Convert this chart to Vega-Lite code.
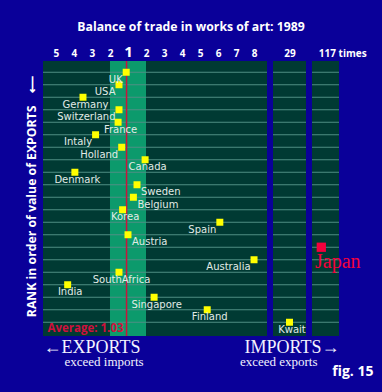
{
  "$schema": "https://vega.github.io/schema/vega-lite/v6.json",
  "width": 296,
  "height": 275,
  "autosize": {"type": "none"},
  "padding": {"left": 43, "top": 61, "right": 43, "bottom": 56},
  "background": "#0a0099",
  "title": {"text": "Balance of trade in works of art: 1989", "font": "Open Sans", "fontSize": 12.25, "fontWeight": "bold", "color": "#ffffff", "anchor": "middle", "offset": 11},
  "config": {"view": {"fill": "#003a33", "stroke": null}},
  "datasets": {
    "countries": [
      {"country": "UK", "rank": 1, "balance": -1.1},
      {"country": "USA", "rank": 2, "balance": -1.5},
      {"country": "Germany", "rank": 3, "balance": -3.5},
      {"country": "Switzerland", "rank": 4, "balance": -1.5},
      {"country": "France", "rank": 5, "balance": -1.55},
      {"country": "Intaly", "rank": 6, "balance": -2.8},
      {"country": "Holland", "rank": 7, "balance": -1.35},
      {"country": "Canada", "rank": 8, "balance": 1.95},
      {"country": "Denmark", "rank": 9, "balance": -3.95},
      {"country": "Sweden", "rank": 10, "balance": 1.5},
      {"country": "Belgium", "rank": 11, "balance": 1.3},
      {"country": "Korea", "rank": 12, "balance": -1.3},
      {"country": "Spain", "rank": 13, "balance": 6.1},
      {"country": "Austria", "rank": 14, "balance": -1.0},
      {"country": "Japan", "rank": 15, "balance": 117},
      {"country": "Australia", "rank": 16, "balance": 8.0},
      {"country": "SouthAfrica", "rank": 17, "balance": -1.5},
      {"country": "India", "rank": 18, "balance": -4.35},
      {"country": "Singapore", "rank": 19, "balance": 2.45},
      {"country": "Finland", "rank": 20, "balance": 5.4},
      {"country": "Kwait", "rank": 21, "balance": 29}
    ],
    "band": [{"from": -2, "to": 2}],
    "gaps": [{"from": 8.72, "to": 27}, {"from": 31, "to": 115}],
    "average": [{"average": -1.08, "label": "Average: 1.03"}]
  },
  "resolve": {"axis": {"x": "independent", "y": "independent"}},
  "layer": [
    {
      "data": {"name": "band"},
      "mark": {"type": "rect", "color": "#0c9a6c"},
      "encoding": {
        "x": {"field": "from", "type": "quantitative", "axis": {
          "orient": "top", "values": [-5, -4, -3, -2, 1, 2, 3, 4, 5, 6, 7, 8, 29, 117],
          "labelExpr": "datum.value == 117 ? '117 times' : '' + abs(datum.value)",
          "labelFont": "Open Sans", "labelFontWeight": "bold",
          "labelFontSize": {"condition": {"test": "datum.value == 1", "value": 15}, "value": 10},
          "labelColor": "#ffffff",
          "labelAlign": {"condition": {"test": "datum.value == 117", "value": "left"}, "value": "center"},
          "labelOffset": {"condition": {"test": "datum.value == 117", "value": -3}, "value": 0},
          "labelBaseline": "alphabetic", "labelPadding": 4.7,
          "ticks": false, "tickSize": 0, "domain": false, "grid": false, "title": null,
          "labelOverlap": false, "labelBound": false, "labelFlush": false
        }},
        "x2": {"field": "to"}
      }
    },
    {
      "data": {"name": "countries"},
      "mark": {"type": "rule", "color": "#4f8f84", "strokeWidth": 1},
      "encoding": {
        "y": {"field": "rank", "type": "quantitative",
          "scale": {"domain": [0.1, 22.1], "reverse": true, "nice": false, "zero": false},
          "axis": {
            "orient": "left", "title": "RANK in order of value of EXPORTS\u00a0\u00a0\u00a0\u00a0⟵",
            "titleFont": "Open Sans", "titleFontWeight": "bold", "titleFontSize": 12.25, "titleColor": "#ffffff",
            "titlePadding": 8, "titleY": 135, "titleBaseline": "alphabetic", "titleAlign": "center", "titleAngle": -90,
            "labels": false, "ticks": false, "domain": false, "grid": false
          }
        },
        "x": {"datum": -5.72, "type": "quantitative", "axis": null},
        "x2": {"datum": 120.8}
      }
    },
    {
      "data": {"name": "gaps"},
      "mark": {"type": "rect", "color": "#0a0099"},
      "encoding": {
        "x": {"field": "from", "type": "quantitative", "axis": null},
        "x2": {"field": "to"}
      }
    },
    {
      "data": {"name": "average"},
      "mark": {"type": "rule", "color": "#c8143c", "strokeWidth": 1.5},
      "encoding": {
        "x": {"field": "average", "type": "quantitative", "axis": {
          "orient": "bottom", "values": [-5.72, 120.8],
          "labelExpr": "datum.value < 0 ? '←EXPORTS' : 'IMPORTS→'",
          "labelFont": "Liberation Serif", "labelFontSize": 18, "labelColor": "#f2f2ff",
          "labelAlign": {"condition": {"test": "datum.value < 0", "value": "left"}, "value": "right"},
          "labelBaseline": "alphabetic", "labelPadding": 16.5,
          "ticks": false, "tickSize": 0, "domain": false, "grid": false, "title": null,
          "labelOverlap": false, "labelBound": false, "labelFlush": false
        }}
      }
    },
    {
      "data": {"name": "average"},
      "mark": {"type": "text", "align": "right", "baseline": "alphabetic", "dx": -3, "dy": -4, "font": "Open Sans", "fontWeight": "bold", "fontSize": 11.5, "color": "#d0103c"},
      "encoding": {
        "x": {"field": "average", "type": "quantitative", "axis": null},
        "y": {"datum": 22.1, "type": "quantitative", "axis": null},
        "text": {"field": "label"}
      }
    },
    {
      "data": {"name": "countries"},
      "mark": {"type": "square", "opacity": 1},
      "encoding": {
        "x": {"field": "balance", "type": "quantitative",
          "scale": {"type": "linear", "domain": [-5.72, -1, 1, 8.72, 27, 31, 115, 120.8], "range": [0, 85, 85, 224, 230, 263, 269, 296], "nice": false, "zero": false},
          "axis": {
            "orient": "bottom", "values": [-5.72, 120.8],
            "labelExpr": "datum.value < 0 ? 'exceed imports' : 'exceed exports'",
            "labelFont": "Liberation Serif", "labelFontSize": 13, "labelColor": "#f2f2ff",
            "labelAlign": {"condition": {"test": "datum.value < 0", "value": "left"}, "value": "right"},
            "labelOffset": {"condition": {"test": "datum.value < 0", "value": 21}, "value": -22},
            "labelBaseline": "alphabetic", "labelPadding": 29.5,
            "ticks": false, "tickSize": 0, "domain": false, "grid": false,
            "labelOverlap": false, "labelBound": false, "labelFlush": false,
            "title": "fig. 15", "titleFont": "Open Sans", "titleFontWeight": "bold", "titleFontSize": 14, "titleColor": "#ffffff",
            "titleX": 330, "titleY": 39, "titleAlign": "right", "titleBaseline": "alphabetic", "titleAnchor": "end"
          }
        },
        "y": {"field": "rank", "type": "quantitative", "axis": null},
        "color": {"condition": {"test": "datum.country == 'Japan'", "value": "#f4003c"}, "value": "#ffff00"},
        "size": {"condition": {"test": "datum.country == 'Japan'", "value": 86}, "value": 49}
      }
    },
    {
      "data": {"name": "countries"},
      "transform": [{"filter": {"field": "country", "oneOf": ["UK", "USA", "Switzerland", "Intaly", "Holland", "Spain", "Australia"]}}],
      "mark": {"type": "text", "align": "right", "baseline": "middle", "dx": -3.5, "dy": 7.5, "font": "DejaVu Sans", "fontSize": 10, "color": "#e2ebe6"},
      "encoding": {
        "x": {"field": "balance", "type": "quantitative", "axis": null},
        "y": {"field": "rank", "type": "quantitative", "axis": null},
        "text": {"field": "country"}
      }
    },
    {
      "data": {"name": "countries"},
      "transform": [{"filter": {"field": "country", "oneOf": ["Sweden", "Belgium", "Austria"]}}],
      "mark": {"type": "text", "align": "left", "baseline": "middle", "dx": 4, "dy": 7.5, "font": "DejaVu Sans", "fontSize": 10, "color": "#e2ebe6"},
      "encoding": {
        "x": {"field": "balance", "type": "quantitative", "axis": null},
        "y": {"field": "rank", "type": "quantitative", "axis": null},
        "text": {"field": "country"}
      }
    },
    {
      "data": {"name": "countries"},
      "transform": [{"filter": {"field": "country", "oneOf": ["Germany", "France", "Canada", "Denmark", "Korea", "SouthAfrica", "India", "Singapore", "Finland", "Kwait"]}}],
      "mark": {"type": "text", "align": "center", "baseline": "middle", "dx": 2.5, "dy": 7.5, "font": "DejaVu Sans", "fontSize": 10, "color": "#e2ebe6"},
      "encoding": {
        "x": {"field": "balance", "type": "quantitative", "axis": null},
        "y": {"field": "rank", "type": "quantitative", "axis": null},
        "text": {"field": "country"}
      }
    },
    {
      "data": {"name": "countries"},
      "transform": [{"filter": {"field": "country", "equal": "Japan"}}],
      "mark": {"type": "text", "align": "left", "baseline": "middle", "dx": -6.3, "dy": 14.7, "font": "Liberation Serif", "fontSize": 20, "color": "#f4003c"},
      "encoding": {
        "x": {"field": "balance", "type": "quantitative", "axis": null},
        "y": {"field": "rank", "type": "quantitative", "axis": null},
        "text": {"field": "country"}
      }
    }
  ]
}
